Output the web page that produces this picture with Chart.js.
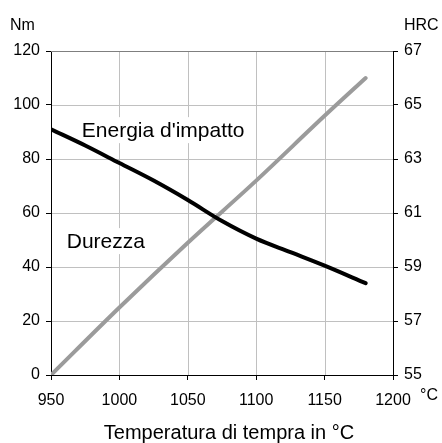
<!DOCTYPE html>
<html><head><meta charset="utf-8">
<script src="https://cdn.jsdelivr.net/npm/chart.js@4/dist/chart.umd.min.js"></script>
<style>html,body{margin:0;padding:0;background:#fff;}canvas{display:block;}</style>
</head><body>
<canvas id="c" width="442" height="443"></canvas>
<script>
// Data
const tempEnergy = [950, 975, 1000, 1025, 1050, 1075, 1100, 1125, 1150, 1180];
const energyNm   = [91, 85, 78.5, 72, 64.8, 57, 50.5, 45.5, 40.5, 34];
const tempHard   = [950, 1000, 1050, 1100, 1150, 1180];
const hardnessHRC = [55, 57.5, 59.9, 62.2, 64.6, 66];
const xTicks = [950, 1000, 1050, 1100, 1150, 1200];
const labelEnergy = "Energia d'impatto";
const labelHard = "Durezza";
const yLeftTitle = "Nm";
const yRightTitle = "HRC";
const xUnit = "°C";
const xTitle = "Temperatura di tempra in °C";

const FONT = "'Liberation Sans', Arial, sans-serif";
const GRID = '#c0c0c0';

const textPlugin = {
  id: 'texts',
  beforeDatasetsDraw(chart) {
    const ctx = chart.ctx, xs = chart.scales.x, ys = chart.scales.y;
    const a = chart.chartArea;
    ctx.save();
    // grid lines at the library's tick positions
    ctx.strokeStyle = GRID;
    ctx.lineWidth = 1;
    ctx.beginPath();
    xs.ticks.forEach(t => {
      const p = Math.round(xs.getPixelForValue(t.value)) + 0.5;
      ctx.moveTo(p, a.top); ctx.lineTo(p, a.bottom);
    });
    ys.ticks.forEach(t => {
      const p = Math.round(ys.getPixelForValue(t.value)) + 0.5;
      ctx.moveTo(a.left, p); ctx.lineTo(a.right, p);
    });
    ctx.stroke();
    // axis frame
    ctx.strokeStyle = '#000';
    ctx.beginPath();
    ctx.moveTo(Math.round(a.left) + 0.5, a.top); ctx.lineTo(Math.round(a.left) + 0.5, a.bottom);
    ctx.moveTo(Math.round(a.right) + 0.5, a.top); ctx.lineTo(Math.round(a.right) + 0.5, a.bottom);
    ctx.moveTo(a.left, Math.round(a.bottom) + 0.5); ctx.lineTo(a.right, Math.round(a.bottom) + 0.5);
    ctx.stroke();
    ctx.strokeStyle = '#7f7f7f';
    ctx.beginPath();
    ctx.moveTo(a.left, Math.round(a.top) + 0.5);
    ctx.lineTo(a.right, Math.round(a.top) + 0.5);
    ctx.stroke();
    // in-plot labels on white boxes
    ctx.font = '21px ' + FONT;
    const items = [[labelEnergy, 972.5, 88.1], [labelHard, 961.5, 47.0]];
    items.forEach(([t, xv, yv]) => {
      const px = xs.getPixelForValue(xv), py = ys.getPixelForValue(yv);
      const w = ctx.measureText(t).width;
      ctx.fillStyle = '#fff';
      ctx.fillRect(px - 5, py - 20, w + 10, 26);
      ctx.fillStyle = '#000';
      ctx.textBaseline = 'alphabetic';
      ctx.textAlign = 'left';
      ctx.fillText(t, px, py);
    });
    ctx.restore();
  },
  afterDraw(chart) {
    const ctx = chart.ctx;
    ctx.save();
    ctx.fillStyle = '#000';
    ctx.textBaseline = 'alphabetic';
    ctx.font = '16px ' + FONT;
    ctx.textAlign = 'left';
    ctx.fillText(yLeftTitle, 10, 30);
    ctx.fillText(yRightTitle, 404, 30);
    ctx.fillText(xUnit, 420, 400);
    ctx.font = '20px ' + FONT;
    ctx.textAlign = 'center';
    ctx.fillText(xTitle, 229, 439);
    ctx.restore();
  }
};

new Chart(document.getElementById('c'), {
  type: 'line',
  data: {
    datasets: [
      {
        label: labelEnergy,
        data: tempEnergy.map((t, i) => ({x: t, y: energyNm[i]})),
        borderColor: '#000000',
        borderWidth: 4,
        pointRadius: 0,
        tension: 0.4,
        cubicInterpolationMode: 'monotone',
        borderCapStyle: 'round',
        yAxisID: 'y'
      },
      {
        label: labelHard,
        data: tempHard.map((t, i) => ({x: t, y: hardnessHRC[i]})),
        borderColor: '#9b9b9b',
        borderWidth: 4,
        pointRadius: 0,
        tension: 0.4,
        cubicInterpolationMode: 'monotone',
        borderCapStyle: 'round',
        yAxisID: 'y1'
      }
    ]
  },
  options: {
    responsive: false,
    animation: false,
    devicePixelRatio: 1,
    layout: {padding: {top: 51, left: 0, right: 0, bottom: 0}},
    plugins: {legend: {display: false}, tooltip: {enabled: false}},
    scales: {
      x: {
        type: 'linear', min: 950, max: 1200,
        afterBuildTicks: s => { s.ticks = xTicks.map(v => ({value: v})); },
        afterFit: s => { s.height = 68; },
        grid: {drawOnChartArea: false, tickColor: '#000', tickLength: 5},
        border: {color: '#000', width: 1},
        ticks: {color: '#000', font: {family: FONT, size: 16}, padding: 11, maxRotation: 0, callback: v => String(v)}
      },
      y: {
        position: 'left', min: 0, max: 120,
        ticks: {stepSize: 20, color: '#000', font: {family: FONT, size: 16}, padding: 6, callback: v => String(v)},
        afterFit: s => { s.width = 51; },
        grid: {drawOnChartArea: false, tickColor: '#000', tickLength: 5},
        border: {color: '#000', width: 1}
      },
      y1: {
        position: 'right', min: 55, max: 67,
        ticks: {stepSize: 2, color: '#000', font: {family: FONT, size: 16}, padding: 6, callback: v => String(v)},
        afterFit: s => { s.width = 49; },
        grid: {drawOnChartArea: false, tickColor: '#000', tickLength: 5},
        border: {color: '#000', width: 1}
      }
    }
  },
  plugins: [textPlugin]
});
</script>
</body></html>
